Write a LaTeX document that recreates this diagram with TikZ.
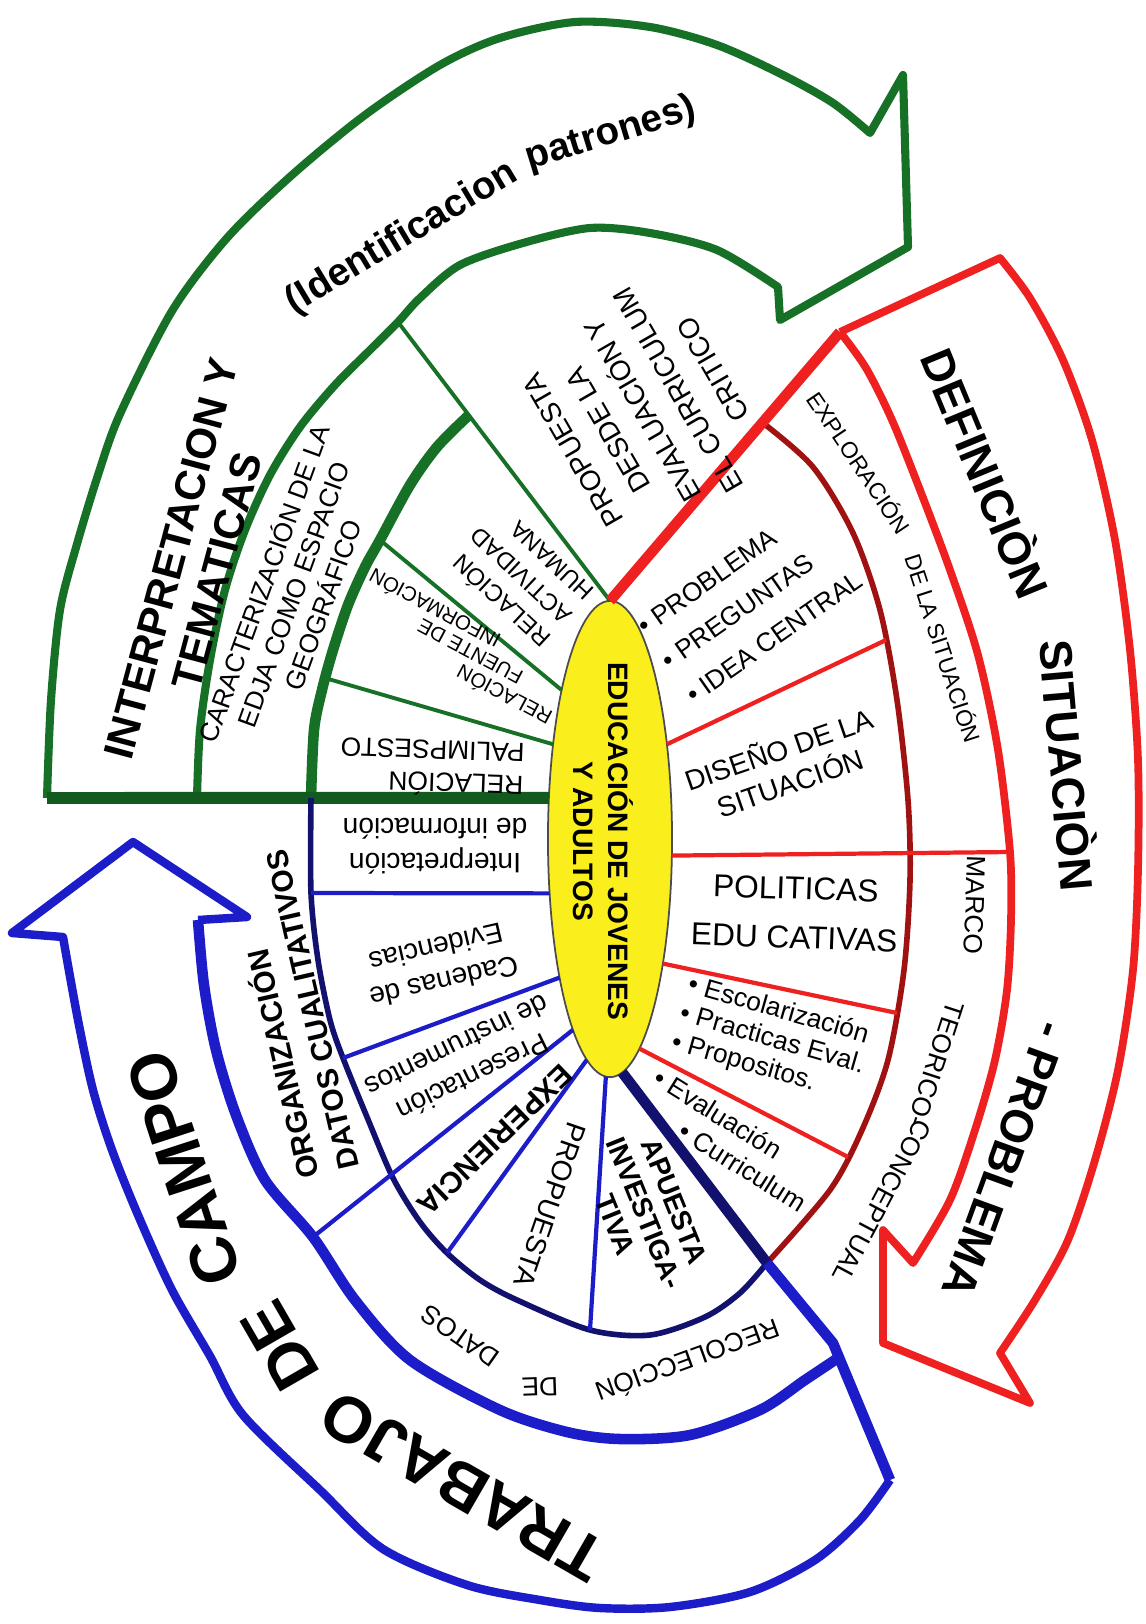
\documentclass[tikz,border=0pt]{standalone}
\usepackage{fontspec}
\setmainfont{Liberation Sans}
\usetikzlibrary{shapes.geometric}

\definecolor{grn}{RGB}{22,112,38}
\definecolor{redl}{RGB}{238,32,32}
\definecolor{redk}{RGB}{160,18,18}
\definecolor{blu}{RGB}{28,28,200}
\definecolor{nav}{RGB}{18,18,110}
\definecolor{ylw}{RGB}{250,238,28}

\newcommand{\fTitle}{\bfseries\fontsize{18.5}{20}\selectfont}
\newcommand{\fBand}{\bfseries\fontsize{13}{14}\selectfont}
\newcommand{\fHead}{\bfseries\fontsize{12}{13.5}\selectfont}
\newcommand{\fPat}{\bfseries\fontsize{11}{12}\selectfont}
\newcommand{\fCore}{\bfseries\fontsize{8}{10}\selectfont}
\newcommand{\fBold}{\bfseries\fontsize{8.5}{11.4}\selectfont}
\newcommand{\fBoldS}{\bfseries\fontsize{8}{9}\selectfont}
\newcommand{\fHand}{\fontsize{8}{10}\selectfont}
\newcommand{\fCar}{\fontsize{7.5}{9}\selectfont}
\newcommand{\fProp}{\fontsize{8}{11.5}\selectfont}
\newcommand{\fAct}{\fontsize{6.8}{9}\selectfont}
\newcommand{\fRel}{\fontsize{5.8}{6.2}\selectfont}
\newcommand{\fSmall}{\fontsize{7.5}{9.2}\selectfont}
\newcommand{\fList}{\fontsize{7.5}{12}\selectfont}
\newcommand{\fBul}{\fontsize{7.5}{8.5}\selectfont}
\newcommand{\fPol}{\fontsize{9}{14}\selectfont}
\newcommand{\fTiny}{\fontsize{6.5}{7.5}\selectfont}
\newcommand{\fMarco}{\fontsize{7.5}{8.5}\selectfont}

\tikzset{
  corestyle/.style={ellipse, draw=black!70, line width=0.5pt, fill=ylw,
    minimum width=1.24cm, minimum height=4.76cm, inner sep=0pt, outer sep=0pt},
  grnarrow/.style={draw=grn, line width=2.3pt},
  grnthick/.style={draw=grn, line width=3pt},
  grnbase/.style={draw=grn!80!black, line width=3.4pt},
  grnthin/.style={draw=grn, line width=1.1pt},
  redarrow/.style={draw=redl, line width=2.2pt},
  redthick/.style={draw=redl, line width=3pt},
  redinner/.style={draw=redk, line width=1.6pt},
  redthin/.style={draw=redl, line width=1.2pt},
  bluarrow/.style={draw=blu, line width=2.4pt},
  bluthick/.style={draw=blu, line width=3pt},
  bluinner/.style={draw=nav, line width=1.6pt},
  bluthin/.style={draw=blu, line width=1.2pt},
  bludiag/.style={line width=3pt},
  lbl/.style={align=center, inner sep=0pt},
}

\begin{document}
\begin{tikzpicture}[x=0.01cm, y=-0.01cm, line join=round]
\useasboundingbox (0,0) rectangle (1146,1624);

% centre
\node[corestyle] (core) at (610,839) {};

% free ends of the rays
\coordinate (gTail) at (47,798);
\coordinate (gA) at (325,678);
\coordinate (gB) at (380,540);
\coordinate (gR) at (398,322);
\coordinate (rTop) at (840,332);
\coordinate (rA) at (886,640);
\coordinate (rB) at (1010,852);
\coordinate (rC) at (897,1013);
\coordinate (rD) at (848,1157);
\coordinate (bA) at (311,893);
\coordinate (bB) at (343,1058);
\coordinate (bC) at (313,1237);
\coordinate (bD) at (447,1253);
\coordinate (bE) at (590,1330);
\coordinate (dA) at (767,1263);
\coordinate (dB) at (833,1343);
\coordinate (dC) at (890,1480);

% green arrow band
\draw[grnarrow] plot[smooth] coordinates {(47,798) (51,700) (60,610) (77,544) (98,475) (120,414) (172,311) (227,238) (292,175) (365,115) (440,65) (500,38) (575,22) (650,27) (717,45) (783,75) (833,103) (870,133)}
  -- (903,75) -- (908,247) -- (780,320) -- (778,287)
  -- plot[smooth] coordinates {(778,287) (717,250) (650,233) (590,228) (523,243) (460,265) (420,298) (398,322) (370,350) (335,385) (300,427) (270,475) (245,530) (225,590) (210,660) (200,730) (197,798)};
\draw[grnthick] plot[smooth] coordinates {(311,798) (314,730) (322,690) (333,650) (348,605) (365,567) (380,540) (410,485) (437,447) (469,415)};
% green rays
\draw[grnbase] (gTail) -- (core.146);
\draw[grnthin] (core.121) -- (gA);
\draw[grnthin] (core.108) -- (gB);
\draw[grnthin] (core.north) -- (gR);

% red arrow band
\draw[redarrow] (rTop) -- (1000,258) -- plot[smooth] coordinates {(1000,258) (1030,298) (1063,360) (1092,440) (1115,540) (1130,650) (1138,760) (1138,870) (1133,970) (1118,1070) (1095,1160) (1068,1240) (1035,1300) (1000,1353)}
  -- (1030,1403) -- (883,1343) -- (883,1230) -- (913,1263)
  -- plot[smooth] coordinates {(913,1263) (950,1200) (975,1130) (995,1060) (1007,990) (1011,920) (1010,852) (998,750) (978,655) (950,570) (920,490) (892,420) (866,368) (840,332)};
\draw[redinner] plot[smooth] coordinates {(763,423) (813,467) (853,533) (880,610) (897,700) (908,800) (910,880) (904,970) (888,1060) (862,1130) (830,1190) (767,1263)};
% red rays
\draw[redthick] (core.north) -- (rTop);
\draw[redthin] (core.59) -- (rA);
\draw[redthin] (core.-15) -- (rB);
\draw[redthin] (core.-67) -- (rC);
\draw[redthin] (core.-82) -- (rD);

% blue arrow band
\draw[bluarrow] plot[smooth] coordinates {(890,1480) (860,1520) (815,1560) (750,1592) (670,1607) (600,1608) (540,1600) (467,1585) (383,1549) (320,1490) (243,1415) (210,1356) (172,1290) (138,1215) (112,1150) (93,1090) (78,1020) (63,937)}
  -- (12,933) -- (133,842) -- (247,917) -- (198,920);
\draw[bluthick] plot[smooth] coordinates {(198,920) (204,985) (216,1050) (236,1115) (265,1180) (313,1237) (355,1300) (410,1360) (500,1410) (567,1432) (620,1439) (690,1435) (760,1410) (805,1380) (838,1358)};
\draw[bluinner] plot[smooth] coordinates {(311,798) (311,893) (318,960) (330,1020) (343,1058) (367,1117) (393,1178) (420,1222) (447,1253) (480,1280) (517,1300) (590,1330) (650,1335) (705,1317) (740,1293) (767,1263)};
% blue rays
\draw[bluthin] (core.-138) -- (bA);
\draw[bluthin] (core.-110) -- (bB);
\draw[bluthin] (core.-101) -- (bC);
\draw[bluthin] (core.-96) -- (bD);
\draw[bluthin] (core.-91) -- (bE);
\draw[bludiag, nav] (core.-87) -- (dA);
\draw[bludiag, blu] (dA) -- (dB) -- (dC);

% band titles
\node[lbl, font=\fPat, rotate=31] (ident) at (402,238) {(Identificacion};
\node[lbl, font=\fPat, rotate=17] (patron) at (611,134) {patrones)};
\node[lbl, font=\fBand, rotate=-67.6] (defin) at (988,472) {DEFINICIÒN};
\node[lbl, font=\fBand, rotate=-85] (situa) at (1070,765) {SITUACIÒN};
\node[lbl, font=\fBand, rotate=-110] (proble) at (1005,1160) {- PROBLEMA};
\node[lbl, font=\fTitle, rotate=150] (trabajo) at (463,1486) {TRABAJO};
\node[lbl, font=\fTitle, rotate=120] (deC) at (280,1346) {DE};
\node[lbl, font=\fTitle, rotate=108] (campo) at (184,1168) {CAMPO};
\node[lbl, font=\fTiny, rotate=-56] (explor) at (860,462) {EXPLORACIÓN};
\node[lbl, font=\fTiny, rotate=-72] (explor2) at (944,648) {DE LA SITUACIÓN};
\node[lbl, font=\fMarco, rotate=-92] (marco) at (975,905) {MARCO};
\node[lbl, font=\fMarco, rotate=-108] (teorico) at (936,1064) {TEORICO-};
\node[lbl, font=\fMarco, rotate=-118] (concep) at (882,1201) {CONCEPTUAL};
\node[lbl, font=\fMarco, rotate=200] (recol) at (688,1362) {RECOLECCIÓN};
\node[lbl, font=\fMarco, rotate=182] (recDe) at (540,1387) {DE};
\node[lbl, font=\fMarco, rotate=145] (recDat) at (460,1336) {DATOS};

% green labels
\node[lbl, font=\fHead, rotate=75] (interp) at (194,565) {INTERPRETACION Y\\TEMATICAS};
\node[lbl, font=\fCar, rotate=70] (caract) at (292,594) {CARACTERIZACIÓN DE LA\\EDJA COMO ESPACIO\\GEOGRÁFICO};
\node[lbl, font=\fProp, rotate=120] (propDesde) at (643,410) {PROPUESTA\\DESDE LA\\EVALUACIÓN Y\\EL CURRICULUM\\CRITICO};
\node[lbl, font=\fAct, rotate=137, align=left] (relAct) at (520,577) {RELACIÓN\\ACTIVIDAD\\HUMANA};
\node[lbl, font=\fRel, rotate=152, align=left] (relFue) at (460,648) {RELACIÓN\\\hspace*{2.2em}FUENTE DE\\\hspace*{4em}INFORMACIÓN};
\node[lbl, font=\fSmall, rotate=178, align=left] (relPal) at (432,768) {RELACIÓN\\PALIMPSESTO};

% red labels
\node[lbl, font=\fList, rotate=35, align=left] (problema) at (750,603) {• PROBLEMA\\• PREGUNTAS\\• IDEA CENTRAL};
\node[lbl, font=\fHand, rotate=19] (diseno) at (784,765) {DISEÑO DE LA\\SITUACIÓN};
\node[lbl, font=\fPol, rotate=-2] (politicas) at (795,913) {POLITICAS\\EDU CATIVAS};
\node[lbl, font=\fBul, rotate=-16, align=left] (escolar) at (772,1040) {• Escolarización\\• Practicas Eval.\\• Propositos.};
\node[lbl, font=\fBul, rotate=-32, align=left] (evalua) at (730,1140) {• Evaluación\\[0.6pt]\hspace*{1.9em}• Curriculum};

% blue labels
\node[lbl, font=\fHand, rotate=180] (interInf) at (435,846) {Interpretación\\de información};
\node[lbl, font=\fHand, rotate=193] (cadenas) at (440,965) {Cadenas de\\Evidencias};
\node[lbl, font=\fHand, rotate=206] (present) at (465,1062) {Presentación\\de instrumentos};
\node[lbl, font=\fBold, rotate=224] (exper) at (495,1140) {EXPERIENCIA};
\node[lbl, font=\fHand, rotate=-109] (propuesta) at (550,1205) {PROPUESTA};
\node[lbl, font=\fBoldS, rotate=-68] (apuesta) at (645,1213) {APUESTA\\INVESTIGA-\\TIVA};
\node[lbl, font=\fBold, rotate=103, align=left] (organiz) at (290,1015) {ORGANIZACIÓN\\DATOS CUALITATIVOS};

% centre label
\node[lbl, font=\fCore, rotate=-90] (coreText) at (603,841) {EDUCACIÓN DE JOVENES\\Y ADULTOS};
\end{tikzpicture}
\end{document}
